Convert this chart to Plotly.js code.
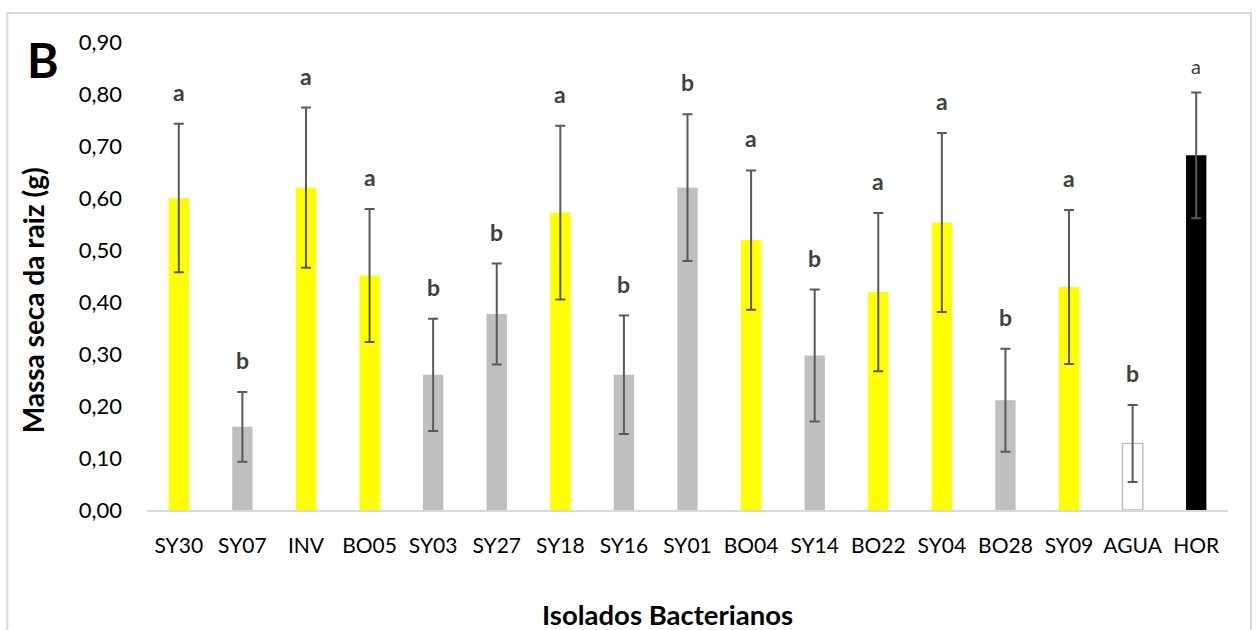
<!DOCTYPE html>
<html>
<head>
<meta charset="utf-8">
<script src="https://cdn.plot.ly/plotly-3.0.1.min.js"></script>
<style>html,body{margin:0;padding:0;background:#fff;}#chart{width:1256px;height:630px;}</style>
</head>
<body>
<div id="chart"></div>
<script>
const categories = ['SY30','SY07','INV','BO05','SY03','SY27','SY18','SY16','SY01','BO04','SY14','BO22','SY04','BO28','SY09','AGUA','HOR'];
const massaSeca = [0.600,0.160,0.620,0.451,0.260,0.377,0.572,0.260,0.620,0.519,0.297,0.419,0.553,0.211,0.429,0.128,0.682];
const erroPadrao = [0.143,0.067,0.154,0.128,0.108,0.097,0.167,0.114,0.141,0.134,0.127,0.152,0.172,0.099,0.148,0.074,0.121];
const letras = ['a','b','a','a','b','b','a','b','b','a','b','a','a','b','a','b','a'];
const controleNegativo = 'AGUA';
const controlePositivo = 'HOR';

const FONT = 'Lato, "Open Sans", sans-serif';

const fillColors = categories.map((c, i) => {
  if (c === controleNegativo) return '#ffffff';
  if (c === controlePositivo) return '#000000';
  return categories[i] === 'SY01' ? '#bfbfbf' : (letras[i] === 'a' ? '#ffff00' : '#bfbfbf');
});
const lineColors = categories.map(c => c === controleNegativo ? '#bfbfbf' : 'rgba(0,0,0,0)');

const trace = {
  type: 'bar',
  x: categories,
  y: massaSeca,
  width: 0.32,
  marker: {color: fillColors, line: {color: lineColors, width: 1.5}},
  error_y: {type: 'data', array: erroPadrao, visible: true, color: '#595959', thickness: 2, width: 5},
  hoverinfo: 'x+y'
};

const annotations = categories.map((c, i) => {
  const isCtrl = c === controlePositivo;
  return {
    x: c, y: massaSeca[i] + erroPadrao[i], xref: 'x', yref: 'y',
    text: isCtrl ? letras[i] : '<b>' + letras[i] + '</b>',
    showarrow: false, yanchor: 'bottom', yshift: isCtrl ? 12 : 16,
    font: {family: FONT, size: isCtrl ? 20 : 23, color: '#404040'}
  };
});

annotations.push({
  text: '<b>B</b>', xref: 'paper', yref: 'paper', x: -0.096, y: 0.962,
  xanchor: 'center', yanchor: 'middle', showarrow: false,
  font: {family: FONT, size: 48, color: '#000000'}
});
annotations.push({
  text: '<b>Massa seca da raiz (g)</b>', xref: 'paper', yref: 'paper',
  x: (33 - 146.7) / 1081.3, y: (510 - 300) / 468, textangle: -90,
  xanchor: 'center', yanchor: 'middle', showarrow: false,
  font: {family: FONT, size: 28, color: '#000000'}
});
annotations.push({
  text: '<b>Isolados Bacterianos</b>', xref: 'paper', yref: 'paper',
  x: (667 - 146.7) / 1081.3, y: (510 - 614) / 468,
  xanchor: 'center', yanchor: 'middle', showarrow: false,
  font: {family: FONT, size: 27.5, color: '#000000'}
});

const layout = {
  width: 1256, height: 630,
  margin: {l: 146.7, r: 28, t: 42, b: 120},
  paper_bgcolor: '#ffffff', plot_bgcolor: '#ffffff',
  separators: ',.',
  showlegend: false,
  font: {family: FONT, size: 21, color: '#000000'},
  xaxis: {
    type: 'category', showgrid: false, zeroline: false,
    showline: true, linecolor: '#d9d9d9', linewidth: 2,
    ticks: '', ticklabelstandoff: 16,
    tickfont: {family: FONT, size: 21, color: '#000000'}
  },
  yaxis: {
    range: [0, 0.9], dtick: 0.1, tick0: 0, tickformat: '.2f',
    showgrid: false, zeroline: false, showline: false,
    ticks: '', ticklabelstandoff: 24,
    tickfont: {family: FONT, size: 22, color: '#000000'}
  },
  annotations: annotations,
  shapes: [{
    type: 'rect', xref: 'paper', yref: 'paper',
    x0: (7 - 146.7) / 1081.3, x1: (1251 - 146.7) / 1081.3,
    y0: (510 - 640) / 468, y1: (510 - 13) / 468,
    line: {color: '#d9d9d9', width: 2}, fillcolor: 'rgba(0,0,0,0)', layer: 'below'
  }]
};

Plotly.newPlot('chart', [trace], layout, {displayModeBar: false, staticPlot: true});
</script>
</body>
</html>
